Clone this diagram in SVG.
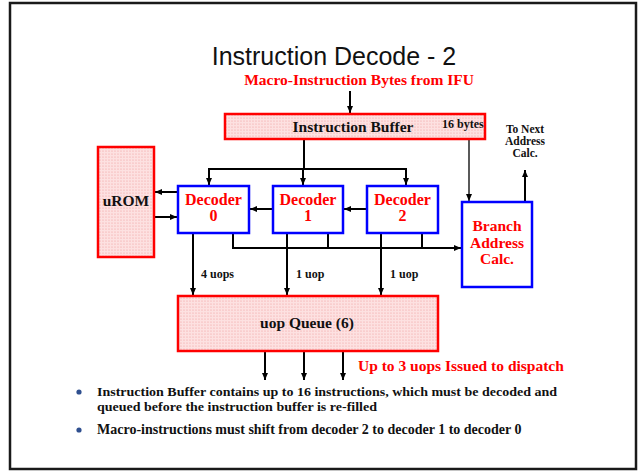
<svg xmlns="http://www.w3.org/2000/svg" width="639" height="471" viewBox="0 0 639 471">
  <style>
    .serif { font-family: "Liberation Serif", "Times New Roman", serif; font-weight: bold; }
    .red { fill: #ff0000; }
    .blk { fill: #111111; }
    .pinkbox { fill: url(#stipple); stroke: #ff0000; stroke-width: 2.5; }
    .bluebox { fill: #ffffff; stroke: #0000ff; stroke-width: 2.5; }
    .wire { fill: none; stroke: #000000; stroke-width: 2; }
    .thin { fill: none; stroke: #000000; stroke-width: 1.3; }
    .arrow { marker-end: url(#head); }
  </style>
  <defs>
    <pattern id="stipple" width="3" height="3" patternUnits="userSpaceOnUse">
      <rect width="3" height="3" fill="#fde1e1"/>
      <circle cx="1" cy="1" r="0.6" fill="#ef9a9a"/>
    </pattern>
    <marker id="head" markerUnits="userSpaceOnUse" markerWidth="8" markerHeight="6" refX="7" refY="3" orient="auto">
      <path d="M0,0 L7,3 L0,6 Z" fill="#000000"/>
    </marker>
  </defs>

  <!-- slide frame -->
  <rect x="10" y="3" width="626" height="466" fill="#ffffff" stroke="#1a1a1a" stroke-width="2.5"/>

  <!-- title -->
  <text x="334" y="65" text-anchor="middle" font-family="Liberation Sans, Arial, sans-serif" font-size="25" fill="#111111">Instruction Decode - 2</text>
  <text x="359" y="85" text-anchor="middle" class="serif red" font-size="15.5">Macro-Instruction Bytes from IFU</text>

  <!-- connectors -->
  <g id="connectors">
    <path class="wire arrow" d="M350,91 V113"/>
    <path class="wire" d="M304,139 V169 M208,169 H406"/>
    <path class="wire arrow" d="M209,168 V185"/>
    <path class="wire arrow" d="M303,169 V185"/>
    <path class="wire arrow" d="M406,168 V185"/>
    <path class="thin arrow" d="M469,139 V201"/>
    <path class="wire arrow" d="M525,202 V170"/>
    <path class="wire arrow" d="M178,192 H155"/>
    <path class="wire arrow" d="M154,217 H177"/>
    <path class="wire arrow" d="M273,209 H250"/>
    <path class="wire arrow" d="M367,209 H344"/>
    <path class="wire arrow" d="M233,233 V248 H461"/>
    <path class="wire" d="M328,233 V248 M422,233 V248"/>
    <path class="wire arrow" d="M193,233 V295"/>
    <path class="wire arrow" d="M287,233 V295"/>
    <path class="wire arrow" d="M381,233 V295"/>
    <path class="wire arrow" d="M265,351 V380"/>
    <path class="wire arrow" d="M304,351 V380"/>
    <path class="wire arrow" d="M343,351 V380"/>
    <text x="201" y="278" class="serif blk" font-size="12">4 uops</text>
    <text x="296" y="278" class="serif blk" font-size="12">1 uop</text>
    <text x="390" y="278" class="serif blk" font-size="12">1 uop</text>
  </g>

  <g id="instruction-buffer">
    <rect class="pinkbox" x="225" y="114" width="260" height="25"/>
    <text x="353" y="132" text-anchor="middle" class="serif blk" font-size="15.5">Instruction Buffer</text>
    <text x="442" y="128" class="serif blk" font-size="12">16 bytes</text>
  </g>

  <g id="next-address">
    <text x="525" y="133" text-anchor="middle" class="serif blk" font-size="11.5">To Next</text>
    <text x="525" y="145" text-anchor="middle" class="serif blk" font-size="11.5">Address</text>
    <text x="525" y="157" text-anchor="middle" class="serif blk" font-size="11.5">Calc.</text>
  </g>

  <g id="urom">
    <rect class="pinkbox" x="98" y="147" width="56" height="110"/>
    <text x="126" y="206" text-anchor="middle" class="serif blk" font-size="15.5">uROM</text>
  </g>

  <g id="decoder0">
    <rect class="bluebox" x="178" y="186" width="71" height="47"/>
    <text x="213.5" y="205" text-anchor="middle" class="serif red" font-size="16">Decoder</text>
    <text x="213.5" y="221" text-anchor="middle" class="serif red" font-size="16">0</text>
  </g>

  <g id="decoder1">
    <rect class="bluebox" x="273" y="186" width="70" height="47"/>
    <text x="308" y="205" text-anchor="middle" class="serif red" font-size="16">Decoder</text>
    <text x="308" y="221" text-anchor="middle" class="serif red" font-size="16">1</text>
  </g>

  <g id="decoder2">
    <rect class="bluebox" x="367" y="186" width="71" height="47"/>
    <text x="402.5" y="205" text-anchor="middle" class="serif red" font-size="16">Decoder</text>
    <text x="402.5" y="221" text-anchor="middle" class="serif red" font-size="16">2</text>
  </g>

  <g id="branch-address-calc">
    <rect class="bluebox" x="462" y="202" width="70" height="85"/>
    <text x="497" y="231" text-anchor="middle" class="serif red" font-size="15.5">Branch</text>
    <text x="497" y="248" text-anchor="middle" class="serif red" font-size="15.5">Address</text>
    <text x="497" y="264" text-anchor="middle" class="serif red" font-size="15.5">Calc.</text>
  </g>

  <g id="uop-queue">
    <rect class="pinkbox" x="178" y="296" width="260" height="55"/>
    <text x="307" y="328" text-anchor="middle" class="serif blk" font-size="15.5">uop Queue (6)</text>
  </g>

  <text x="358" y="371" class="serif red" font-size="15.5">Up to 3 uops Issued to dispatch</text>

  <!-- bullet notes -->
  <g id="notes">
    <circle cx="79" cy="392" r="2.6" fill="#2f4f8f"/>
    <circle cx="79" cy="430" r="2.6" fill="#2f4f8f"/>
    <text x="97" y="396" class="serif blk" font-size="13.2" textLength="460" lengthAdjust="spacingAndGlyphs">Instruction Buffer contains up to 16 instructions, which must be decoded and</text>
    <text x="97" y="410.6" class="serif blk" font-size="13.2" textLength="280" lengthAdjust="spacingAndGlyphs">queued before the instruction buffer is re-filled</text>
    <text x="97" y="434" class="serif blk" font-size="14">Macro-instructions must shift from decoder 2 to decoder 1 to decoder 0</text>
  </g>
</svg>
